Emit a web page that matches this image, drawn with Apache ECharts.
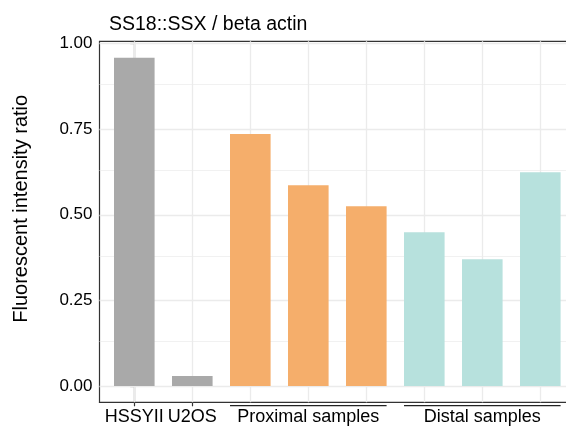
<!DOCTYPE html>
<html>
<head>
<meta charset="utf-8">
<script src="https://cdn.jsdelivr.net/npm/echarts@6/dist/echarts.min.js"></script>
<style>
html,body{margin:0;padding:0;background:#fff;}
#chart{width:566px;height:430px;}
</style>
</head>
<body>
<div id="chart"></div>
<script>
// ---- data ----
const categories = ['HSSYII', 'U2OS', 'Proximal 1', 'Proximal 2', 'Proximal 3', 'Distal 1', 'Distal 2', 'Distal 3'];
const values = [0.959, 0.029, 0.736, 0.586, 0.525, 0.449, 0.370, 0.624];
const groups = ['control', 'control', 'proximal', 'proximal', 'proximal', 'distal', 'distal', 'distal'];
const groupNames = { proximal: 'Proximal samples', distal: 'Distal samples' };
const yTicks = [0, 0.25, 0.5, 0.75, 1.0];
const yMinorTicks = [0.125, 0.375, 0.625, 0.875];
const titleText = 'SS18::SSX / beta actin';
const yTitle = 'Fluorescent intensity ratio';

// ---- styles ----
const colors = { control: '#A9A9A9', proximal: '#F5AE6B', distal: '#B7E1DD' };
const FONT = 'Liberation Sans, Arial, Helvetica, sans-serif';

const n = categories.length;
const ymax = Math.max(...values);
const yMin = -0.05 * ymax, yMax = 1.05 * ymax;
const xMin = -0.6, xMax = n - 1 + 0.6;

// labels on x: individual for controls, group centers for sample groups
const xLabelVals = [], xLabelTxt = {};
const tickVals = [];
categories.forEach((c, i) => { if (groups[i] === 'control') { xLabelVals.push(i); xLabelTxt[i] = c; tickVals.push(i); } });
const groupSpans = [];
Object.keys(groupNames).forEach(g => {
  const idx = groups.map((v, i) => v === g ? i : -1).filter(i => i >= 0);
  const c = (idx[0] + idx[idx.length - 1]) / 2;
  xLabelVals.push(c); xLabelTxt[c] = groupNames[g];
  groupSpans.push([idx[0] - 0.35, idx[idx.length - 1] + 0.35]);
});

const bracketData = [];
groupSpans.forEach((s, k) => {
  if (k > 0) bracketData.push([null, null]);
  bracketData.push([s[0], 0.5], [s[1], 0.5]);
});

const gridLines = [];
yTicks.forEach(v => gridLines.push({ yAxis: v, lineStyle: { width: 1.3, color: '#EBEBEB', type: 'solid' } }));
yMinorTicks.forEach(v => gridLines.push({ yAxis: v, lineStyle: { width: 0.7, color: '#EBEBEB', type: 'solid' } }));
categories.forEach((c, i) => gridLines.push({ xAxis: i, lineStyle: { width: 1.3, color: '#EBEBEB', type: 'solid' } }));

const chart = echarts.init(document.getElementById('chart'), null, { renderer: 'canvas' });
chart.setOption({
  animation: false,
  backgroundColor: '#fff',
  title: {
    text: titleText, left: 104, top: 10,
    textStyle: { fontFamily: FONT, fontSize: 19.5, fontWeight: 'normal', color: '#000' }
  },
  grid: [
    { left: 99.5, top: 41.3, width: (xMax - xMin) * 58, height: 361, show: true, borderColor: '#333', borderWidth: 1.2, backgroundColor: 'transparent', outerBoundsMode: 'none', containLabel: false },
    { left: 99.5, top: 405, width: (xMax - xMin) * 58, height: 1.4, show: false, outerBoundsMode: 'none', containLabel: false }
  ],
  xAxis: [
    {
      type: 'value', gridIndex: 0, min: xMin, max: xMax,
      axisLine: { show: true, onZero: false, lineStyle: { color: '#333', width: 1.2 } },
      axisTick: { show: true, customValues: tickVals, length: 4, lineStyle: { color: '#333', width: 1.2 } },
      axisLabel: {
        show: true, customValues: xLabelVals, margin: 6, hideOverlap: false,
        formatter: v => xLabelTxt[v] !== undefined ? xLabelTxt[v] : '',
        fontFamily: FONT, fontSize: 18, color: '#000'
      },
      splitLine: { show: false }
    },
    { type: 'value', gridIndex: 1, min: xMin, max: xMax, show: false }
  ],
  yAxis: [
    {
      type: 'value', gridIndex: 0, min: yMin, max: yMax,
      name: yTitle, nameLocation: 'middle', nameGap: 68, nameRotate: 90,
      nameTextStyle: { fontFamily: FONT, fontSize: 20, color: '#000', padding: [0, 0, 0, 26] },
      axisLine: { show: true, lineStyle: { color: '#333', width: 1.2 } },
      axisTick: { show: true, customValues: yTicks, length: 4, lineStyle: { color: '#333', width: 1.2 } },
      axisLabel: {
        show: true, customValues: yTicks, margin: 7,
        formatter: v => v.toFixed(2),
        fontFamily: FONT, fontSize: 17, color: '#000'
      },
      splitLine: { show: false }
    },
    { type: 'value', gridIndex: 1, min: 0, max: 1, show: false }
  ],
  series: [
    {
      type: 'line', xAxisIndex: 0, yAxisIndex: 0, data: [], z: 1, silent: true,
      markLine: { silent: true, symbol: 'none', z: 1, label: { show: false }, animation: false, data: gridLines }
    },
    {
      type: 'bar', xAxisIndex: 0, yAxisIndex: 0, barWidth: '70%', z: 3,
      data: values.map((v, i) => ({ value: [i, v], itemStyle: { color: colors[groups[i]] } }))
    },
    {
      type: 'line', xAxisIndex: 1, yAxisIndex: 1, data: bracketData, connectNulls: false,
      symbol: 'none', silent: true, lineStyle: { color: '#222', width: 1.3 }
    }
  ]
});
</script>
</body>
</html>
